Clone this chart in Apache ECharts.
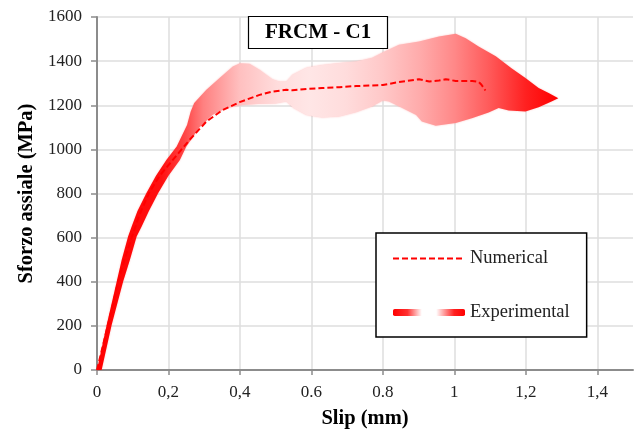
<!DOCTYPE html>
<html>
<head>
<meta charset="utf-8">
<script src="https://cdn.jsdelivr.net/npm/echarts@6/dist/echarts.min.js"></script>
<style>html,body{margin:0;padding:0;background:#fff}#c{width:641px;height:432px}</style>
</head>
<body>
<div id="c"></div>
<script>
// Numerical curve: [slip (mm), axial stress (MPa)]
const numerical = [[0,0],[0.015,100],[0.03,200],[0.045,300],[0.059,400],[0.077,500],[0.097,600],[0.118,700],[0.145,800],[0.175,880],[0.212,952],[0.259,1043],[0.306,1126],[0.352,1179],[0.399,1214],[0.455,1247],[0.491,1262],[0.53,1270],[0.547,1268],[0.586,1274],[0.63,1278],[0.678,1282],[0.725,1287],[0.77,1290],[0.8,1292],[0.845,1305],[0.901,1318],[0.93,1308],[0.957,1312],[0.976,1318],[1.004,1310],[1.05,1310],[1.068,1306],[1.076,1293],[1.087,1267]];
// Experimental envelope: upper and lower boundaries
const expUpper = [[0,0],[0.027,204],[0.055,400],[0.069,499],[0.087,605],[0.097,650],[0.113,720],[0.138,801],[0.165,880],[0.194,952],[0.223,1013],[0.252,1110],[0.262,1170],[0.272,1210],[0.306,1270],[0.343,1323],[0.38,1376],[0.4,1390],[0.427,1388],[0.455,1361],[0.491,1318],[0.51,1308],[0.53,1308],[0.547,1338],[0.586,1370],[0.63,1383],[0.678,1392],[0.725,1398],[0.77,1415],[0.8,1440],[0.845,1474],[0.901,1489],[0.957,1512],[1.004,1524],[1.032,1504],[1.068,1466],[1.116,1422],[1.16,1368],[1.199,1323],[1.236,1278],[1.264,1255],[1.291,1232]];
const expLower = [[0.013,0],[0.041,204],[0.073,400],[0.092,499],[0.111,605],[0.125,650],[0.145,720],[0.171,801],[0.2,880],[0.232,952],[0.25,1013],[0.287,1100],[0.324,1157],[0.36,1185],[0.4,1200],[0.45,1206],[0.5,1208],[0.53,1217],[0.55,1187],[0.586,1156],[0.63,1145],[0.678,1149],[0.725,1168],[0.77,1194],[0.8,1222],[0.817,1217],[0.854,1187],[0.893,1156],[0.909,1126],[0.948,1107],[1.004,1119],[1.049,1141],[1.096,1167],[1.124,1187],[1.152,1176],[1.199,1172],[1.236,1191],[1.272,1217],[1.291,1232]];
const xTickValues = [0,0.2,0.4,0.6,0.8,1,1.2,1.4];
const xTickLabels = ['0','0,2','0,4','0.6','0.8','1','1,2','1,4'];
const yTicks = [0,200,400,600,800,1000,1200,1400,1600];
const seriesNames = ['Numerical','Experimental'];
const chartTitle = 'FRCM - C1';

const serif = 'Liberation Serif';
const bandGradient = new echarts.graphic.LinearGradient(0,0,1,0,[
  {offset:0, color:'#ff0000'},
  {offset:0.14, color:'#ff1010'},
  {offset:0.19, color:'#ff4545'},
  {offset:0.23, color:'#ff8080'},
  {offset:0.31, color:'#ffc0c0'},
  {offset:0.39, color:'#ffdcdc'},
  {offset:0.46, color:'#ffe6e6'},
  {offset:0.54, color:'#ffdcdc'},
  {offset:0.62, color:'#ffc8c8'},
  {offset:0.70, color:'#ffabab'},
  {offset:0.775, color:'#ff8888'},
  {offset:0.85, color:'#ff5a5a'},
  {offset:0.93, color:'#ff2020'},
  {offset:1, color:'#ff0000'}
]);
const legendGradient = new echarts.graphic.LinearGradient(0,0,1,0,[
  {offset:0, color:'#ff0000'},
  {offset:0.2, color:'#ff3030'},
  {offset:0.4, color:'#ffffff'},
  {offset:0.6, color:'#ffffff'},
  {offset:0.85, color:'#ff2020'},
  {offset:1, color:'#ff0000'}
]);

const chart = echarts.init(document.getElementById('c'), null, {renderer:'canvas'});
chart.setOption({
  animation:false,
  backgroundColor:'#fff',
  title:{
    text: chartTitle, left:248, top:16,
    backgroundColor:'#fff', borderColor:'#000', borderWidth:1.2,
    padding:[6,17,6,17],
    textStyle:{fontFamily:serif, fontWeight:'bold', fontSize:21, color:'#000'}
  },
  grid:{left:97, right:8, top:17, bottom:62, containLabel:false, outerBoundsMode:'none'},
  legend:{
    orient:'vertical', left:376, top:233,
    backgroundColor:'#fff', borderColor:'#000', borderWidth:1.5, borderRadius:0,
    padding:[16,17,15,16], itemGap:35, itemWidth:72, itemHeight:7,
    textStyle:{fontFamily:serif, fontSize:18.5, color:'#222'},
    data:[
      {name:seriesNames[0], itemStyle:{opacity:0}},
      {name:seriesNames[1], icon:'roundRect', itemStyle:{color:legendGradient}}
    ]
  },
  xAxis:{
    type:'value', min:0, max:1.5, interval:0.2,
    name:'Slip (mm)', nameLocation:'middle', nameGap:38,
    nameTextStyle:{fontFamily:serif, fontWeight:'bold', fontSize:20.5, color:'#000'},
    axisLine:{show:true, lineStyle:{color:'#8c8c8c', width:2}},
    axisTick:{show:true, length:5, customValues:xTickValues, lineStyle:{color:'#8c8c8c', width:1.5}},
    axisLabel:{margin:14, fontFamily:serif, fontSize:17, color:'#222', customValues:xTickValues,
      formatter:function(v){const i=Math.round(v/0.2); return (Math.abs(v-i*0.2)<1e-6 && i<xTickLabels.length)? xTickLabels[i] : '';}},
    splitLine:{show:true, lineStyle:{color:'#dedede', width:1.5}}
  },
  yAxis:{
    type:'value', min:yTicks[0], max:yTicks[yTicks.length-1], interval:200,
    name:'Sforzo assiale (MPa)', nameLocation:'middle', nameGap:58,
    nameTextStyle:{fontFamily:serif, fontWeight:'bold', fontSize:20.5, color:'#000'},
    axisLine:{show:true, lineStyle:{color:'#8c8c8c', width:2}},
    axisTick:{show:true, length:6, lineStyle:{color:'#8c8c8c', width:1.5}},
    axisLabel:{margin:15, fontFamily:serif, fontSize:17, color:'#222', formatter:function(v){return String(v);}},
    splitLine:{show:true, lineStyle:{color:'#dedede', width:1.5}}
  },
  series:[
    {
      name:seriesNames[1], type:'custom', z:2,
      itemStyle:{color:legendGradient},
      data:[[0,0]],
      renderItem:function(params, api){
        const pts = expUpper.map(p=>api.coord(p)).concat(expLower.slice().reverse().map(p=>api.coord(p)));
        return {type:'polygon', shape:{points:pts}, style:{fill:bandGradient, shadowBlur:2, shadowColor:'rgba(255,80,80,0.35)'}};
      }
    },
    {
      name:seriesNames[0], type:'line', z:3, symbol:'none', smooth:false,
      data:numerical,
      lineStyle:{color:'#ff0000', width:2, type:[6,3]},
      itemStyle:{color:'#ff0000'}
    }
  ]
});
</script>
</body>
</html>
